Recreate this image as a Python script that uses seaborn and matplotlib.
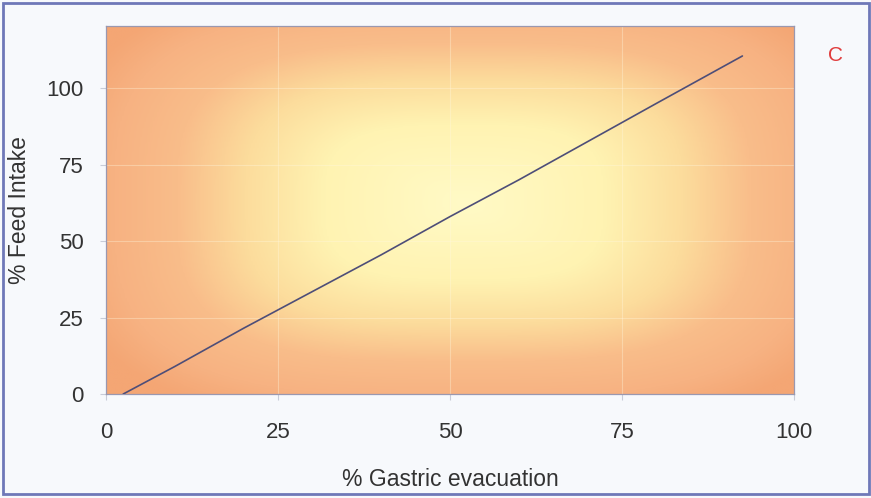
import numpy as np
import pandas as pd
import matplotlib
matplotlib.use("Agg")
import matplotlib.pyplot as plt
from matplotlib.colors import LinearSegmentedColormap
from matplotlib.patches import Rectangle
import seaborn as sns

# Relationship between gastric evacuation and feed intake
gastric_evacuation = [2.5, 10, 20, 30, 40, 50, 60, 70, 80, 92.5]
feed_intake = [0, 9, 21.5, 33.5, 45.5, 58, 70, 82.5, 95, 110.5]
x_ticks = [0, 25, 50, 75, 100]
y_ticks = [0, 25, 50, 75, 100]
panel_label = "C"

sns.set_theme(style="white")
plt.rcParams['font.family'] = ['Liberation Sans', 'DejaVu Sans']

fig = plt.figure(figsize=(8.71, 4.98), dpi=100)
fig.patch.set_facecolor("#f7f9fc")
ax = fig.add_axes([0.1217, 0.2088, 0.7899, 0.739])

# Soft yellow-to-orange fill for the plotting area, brightest in the middle
cmap = LinearSegmentedColormap.from_list(
    "glow", [(0.0, "#fffac6"), (0.35, "#fff3b2"), (0.55, "#fcdc9c"),
             (0.72, "#f9bd8a"), (0.88, "#f7b282"), (1.0, "#f4a674")])
gx, gy = np.meshgrid(np.linspace(0, 1, 400), np.linspace(0, 1, 300))
p = 3.2
r = (np.abs((gx - 0.52) / 0.58) ** p + np.abs((gy - 0.52) / 0.6) ** p) ** (1 / p)
ax.imshow(np.clip(r, 0, 1), cmap=cmap, vmin=0, vmax=1, extent=[0, 1, 0, 1],
          transform=ax.transAxes, aspect="auto", origin="lower", zorder=0,
          interpolation="bilinear")

df = pd.DataFrame({"evac": gastric_evacuation, "intake": feed_intake})
sns.lineplot(data=df, x="evac", y="intake", ax=ax, color="#4e4e78",
             linewidth=1.2, zorder=3)

ax.set_xlim(0, 100)
ax.set_ylim(0, 120.3)
ax.set_xticks(x_ticks)
ax.set_yticks(y_ticks)
for v in x_ticks[1:-1]:
    ax.axvline(v, color="#fff8e0", linewidth=0.8, alpha=0.35, zorder=1)
for v in y_ticks[1:]:
    ax.axhline(v, color="#fff8e0", linewidth=0.8, alpha=0.35, zorder=1)

ax.tick_params(axis="both", labelsize=16, colors="#333333", length=4,
               width=0.8, direction="out")
ax.tick_params(axis="x", pad=16)
ax.tick_params(axis="y", pad=12)
ax.tick_params(axis="both", color="#c8ccd8")
ax.tick_params(bottom=True, left=True)
for s in ax.spines.values():
    s.set_color("#9a98b0")
    s.set_linewidth(0.9)

ax.set_xlabel("% Gastric evacuation", fontsize=16.5, color="#333333", labelpad=18)
ax.set_ylabel("% Feed Intake", fontsize=16.5, color="#333333", labelpad=11)

fig.text(0.959, 0.889, panel_label, color="#e03c3c", fontsize=15,
         ha="center", va="center")

fig.patches.append(Rectangle((0.004, 0.008), 0.994, 0.985, transform=fig.transFigure,
                             fill=False, edgecolor="#6f78b8", linewidth=2))

fig.savefig("out.png", dpi=100, facecolor=fig.get_facecolor())
